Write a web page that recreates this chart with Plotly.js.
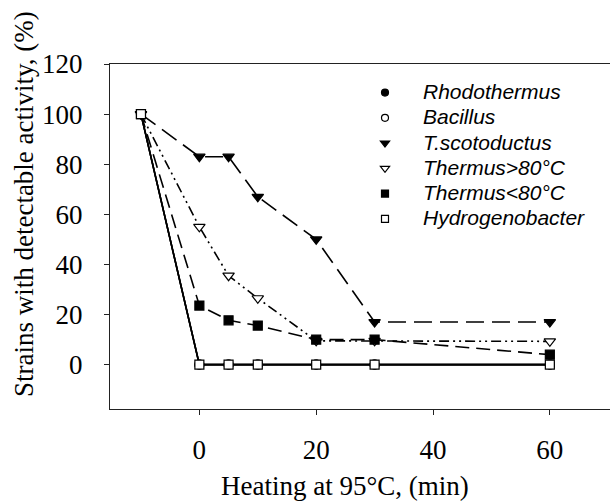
<!DOCTYPE html>
<html>
<head>
<meta charset="utf-8">
<script src="https://cdn.plot.ly/plotly-3.0.1.min.js"></script>
<style>html,body{margin:0;padding:0;background:#fff;}#chart{width:610px;height:502px;}</style>
</head>
<body>
<div id="chart"></div>
<script>
// Heating time in minutes (-10 = before heating)
const minutes = [-10, 0, 5, 10, 20, 30, 60];
const seriesNames = ['Rhodothermus', 'Bacillus', 'T.scotoductus', 'Thermus>80°C', 'Thermus<80°C', 'Hydrogenobacter'];
const rhodothermus = [100, 0, 0, 0, 0, 0, 0];
const bacillus = [100, 0, 0, 0, 0, 0, 0];
const tScotoductus = [100, 83, 83, 67, 50, 17, 17];
const thermusAbove80 = [100, 55, 35.5, 26.5, 9.5, 9.5, 9.3];
const thermusBelow80 = [100, 23.6, 17.7, 15.6, 10, 10, 4];
const hydrogenobacter = [100, 0, 0, 0, 0, 0, 0];
const xTicks = [0, 20, 40, 60];
const yTicks = [0, 20, 40, 60, 80, 100, 120];
const xTitle = 'Heating at 95°C, (min)';
const yTitle = 'Strains with detectable activity, (%)';

const values = [rhodothermus, bacillus, tScotoductus, thermusAbove80, thermusBelow80, hydrogenobacter];
const symbols = ['circle', 'circle', 'triangle-down', 'triangle-down', 'square', 'square'];
const filled = [true, false, true, false, true, false];
const dashes = ['solid', 'solid', '18px,8px', '10px,4px,2px,4px,2px,4px', '14px,7px', 'solid'];
const sizes = [9, 9, 10, 10, 9, 9];
const drawOrder = [0, 1, 3, 2, 4, 5];

const serif = 'Liberation Serif, Times New Roman, serif';
const traces = [];
drawOrder.forEach(i => {
  traces.push({
    x: minutes, y: values[i], type: 'scatter', mode: 'lines+markers',
    showlegend: false, cliponaxis: false,
    line: {color: '#000', width: 1.6, dash: dashes[i]},
    marker: {symbol: symbols[i], size: sizes[i], color: filled[i] ? '#000' : '#fff',
             line: {color: '#000', width: 1.2}},
  });
});
seriesNames.forEach((name, i) => {
  traces.push({
    x: [null], y: [null], type: 'scatter', mode: 'markers',
    name: '<span style="font-size:21px">' + name.replace('<', '&lt;').replace('>', '&gt;') + '</span>',
    legendgroup: 'g' + i,
    marker: {symbol: symbols[i], size: sizes[i] - 2, color: filled[i] ? '#000' : '#fff',
             line: {color: '#000', width: 1.2}},
  });
});

const layout = {
  width: 610, height: 502,
  margin: {l: 110, r: 0, t: 64, b: 93},
  paper_bgcolor: '#fff', plot_bgcolor: '#fff',
  showlegend: true,
  legend: {
    x: 0.474, y: 0.967, xanchor: 'left', yanchor: 'top',
    itemwidth: 66, tracegroupgap: 0.8, bgcolor: 'rgba(0,0,0,0)',
    font: {family: 'Liberation Sans, Arial, sans-serif', size: 16.5, color: '#000', style: 'italic'},
  },
  xaxis: {
    range: [-15.3, 70.3], tickvals: xTicks, ticktext: xTicks.map(String),
    showgrid: false, zeroline: false, showline: true, mirror: true,
    linecolor: '#222', linewidth: 1, ticks: 'outside', ticklen: 5, tickcolor: '#222',
    ticklabelstandoff: 12,
    tickfont: {family: serif, size: 27, color: '#000'},
  },
  yaxis: {
    range: [-17.7, 120], tickvals: yTicks, ticktext: yTicks.map(String),
    showgrid: false, zeroline: false, showline: true,
    linecolor: '#222', linewidth: 1, ticks: 'outside', ticklen: 5, tickcolor: '#222',
    ticklabelstandoff: 16,
    tickfont: {family: serif, size: 27, color: '#000'},
  },
  annotations: [
    {text: xTitle, xref: 'paper', yref: 'paper', x: 0.47, y: -0.223,
     xanchor: 'center', yanchor: 'middle', showarrow: false,
     font: {family: serif, size: 27, color: '#000'}},
    {text: yTitle, xref: 'paper', yref: 'paper', x: -0.172, y: 0.594, textangle: -90,
     xanchor: 'center', yanchor: 'middle', showarrow: false,
     font: {family: serif, size: 27, color: '#000'}},
  ],
};

Plotly.newPlot('chart', traces, layout, {displayModeBar: false, staticPlot: true});
</script>
</body>
</html>
